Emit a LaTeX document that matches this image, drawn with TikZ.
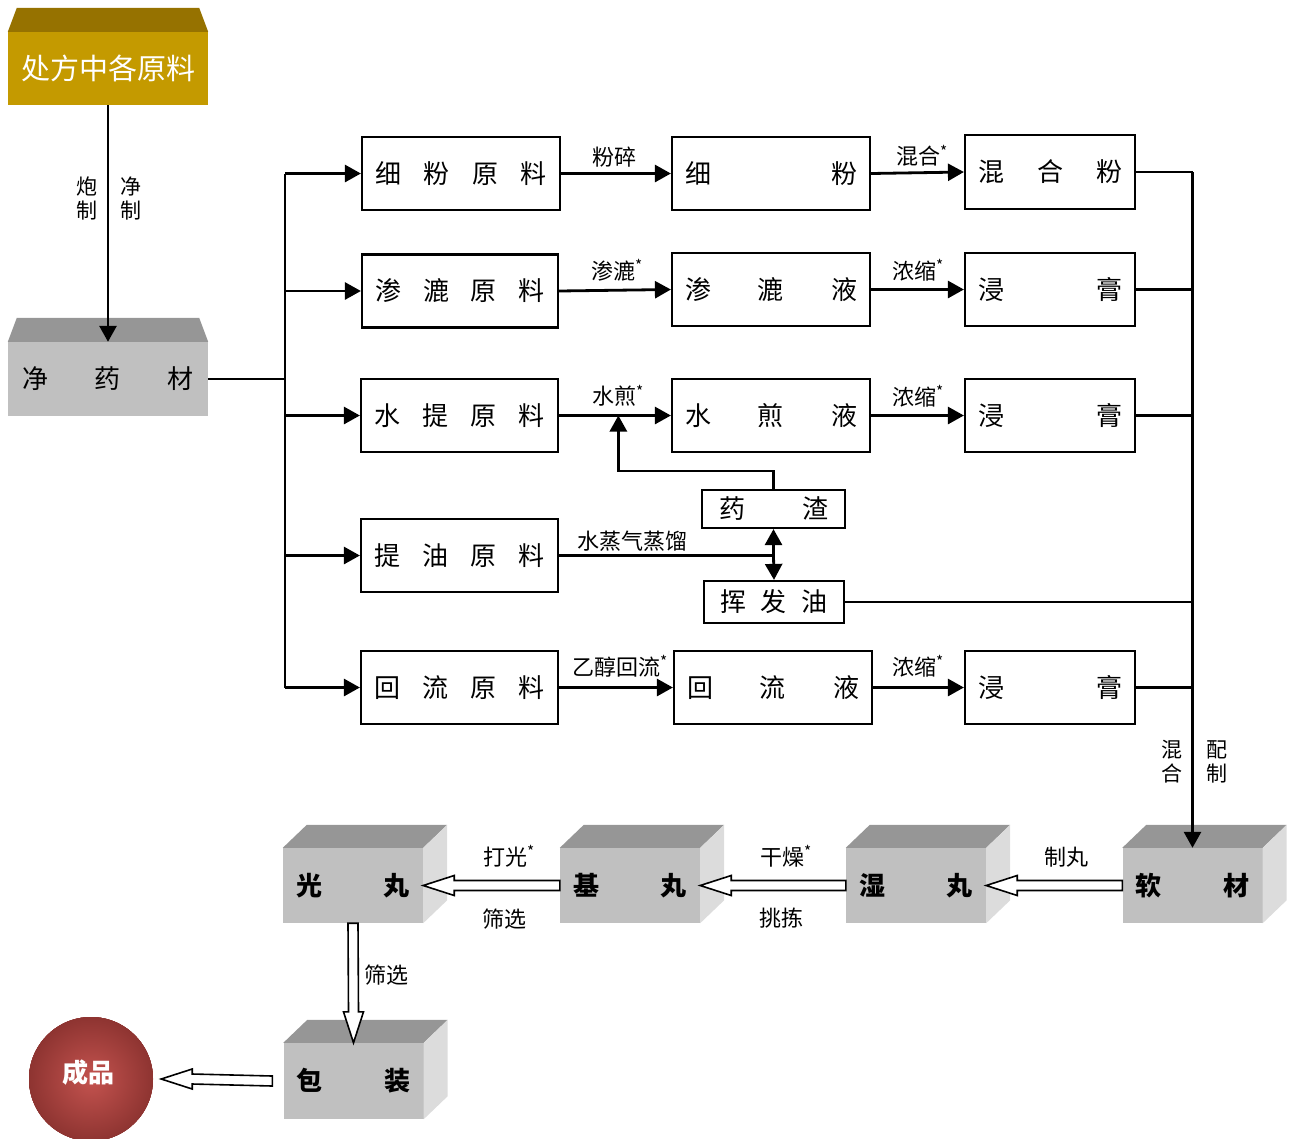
\documentclass[tikz,border=0pt]{standalone}
\usepackage{fontspec}
\newfontfamily\cjk{Noto Sans CJK SC}
\usetikzlibrary{calc,arrows.meta}
\setlength{\parindent}{0pt}
\definecolor{goldfront}{HTML}{C49A00}
\definecolor{goldtop}{HTML}{967200}
\definecolor{cubefront}{HTML}{C0C0C0}
\definecolor{cubetop}{HTML}{969696}
\definecolor{cubeside}{HTML}{DCDCDC}
\definecolor{redin}{HTML}{C4534F}
\definecolor{redout}{HTML}{8E3431}
\newcommand\cubefaces[1]{%
  \fill[cubetop] (#1.north west) -- ++(24,-23) -- ($(#1.north east)+(24,-23)$) -- (#1.north east) -- cycle;
  \fill[cubeside] (#1.north east) -- ++(24,-23) -- ($(#1.south east)+(24,-23)$) -- (#1.south east) -- cycle;}
\newcommand\trapfaces[2]{%
  \fill[#2] (#1.north west) -- ++(9,-24) -- ($(#1.north east)+(-9,-24)$) -- (#1.north east) -- cycle;}
% hollow arrow pointing left: #1 start (right), #2 tip (left)
\newcommand\hollowleft[2]{%
  \draw[hol] ($(#1)+(0,-5)$) -- ($(#2)+(31,-5)$) -- ($(#2)+(31,-10)$) -- (#2) -- ($(#2)+(31,10)$) -- ($(#2)+(31,5)$) -- ($(#1)+(0,5)$) -- cycle;}
% hollow arrow pointing down: #1 start (top), #2 tip (bottom)
\newcommand\hollowdown[2]{%
  \draw[hol] ($(#1)+(-5,0)$) -- ($(#2)+(-5,-31)$) -- ($(#2)+(-10,-31)$) -- (#2) -- ($(#2)+(10,-31)$) -- ($(#2)+(5,-31)$) -- ($(#1)+(5,0)$) -- cycle;}
\tikzset{
  box/.style={draw, line width=2.2pt, inner xsep=13pt, inner ysep=0pt, minimum height=73pt,
              font=\cjk\fontsize{26}{26}\selectfont},
  graybox/.style={fill=cubefront, inner xsep=14pt, inner ysep=0pt, minimum width=200pt, minimum height=74pt,
              text width=172pt, font=\cjk\fontsize{26}{26}\selectfont},
  goldbox/.style={fill=goldfront, inner sep=0pt, minimum width=200pt, minimum height=73pt,
              text=white, font=\cjk\fontsize{29}{29}\selectfont},
  cube/.style={fill=cubefront, inner xsep=13pt, inner ysep=0pt, minimum width=140pt, minimum height=75pt,
              text width=114pt, font=\cjk\bfseries\fontsize{26}{26}\selectfont},
  lbl/.style={inner sep=0pt, font=\cjk\fontsize{22}{22}\selectfont},
  vlbl/.style={inner sep=0pt, align=center, font=\cjk\fontsize{21}{24}\selectfont},
  conn/.style={line width=2.8pt},
  arr/.style={line width=2.8pt, -{Triangle[length=16pt,width=17pt]}},
  hol/.style={draw=black, fill=white, line width=1.6pt, line join=miter},
}
\begin{document}
\begin{tikzpicture}[x=1pt,y=-1pt]
\useasboundingbox (0,0) rectangle (1295,1138);

% source boxes
\node[goldbox] (src) at (108,68.5) {处方中各原料};
\trapfaces{src}{goldtop}
\node[graybox] (jyc) at (108,379) {净\hfill 药\hfill 材};
\trapfaces{jyc}{cubetop}
\draw[arr] (src.south) -- (jyc.north);
\node[vlbl] at (87,198) {炮\\制};
\node[vlbl] at (131,198) {净\\制};

% column 1
\node[box, minimum width=198pt, text width=172pt] (r1) at (461,173.5) {细\hfill 粉\hfill 原\hfill 料};
\node[box, minimum width=196pt, text width=170pt] (r2) at (460,291) {渗\hfill 漉\hfill 原\hfill 料};
\node[box, minimum width=197pt, text width=171pt] (r3) at (459.5,415.5) {水\hfill 提\hfill 原\hfill 料};
\node[box, minimum width=197pt, text width=171pt] (r4) at (459.5,555.5) {提\hfill 油\hfill 原\hfill 料};
\node[box, minimum width=197pt, text width=171pt] (r5) at (459.5,687.5) {回\hfill 流\hfill 原\hfill 料};
% column 2
\node[box, minimum width=198pt, text width=172pt] (s1) at (771,173.5) {细\hfill 粉};
\node[box, minimum width=198pt, text width=172pt] (s2) at (771,289.5) {渗\hfill 漉\hfill 液};
\node[box, minimum width=198pt, text width=172pt] (s3) at (771,415.5) {水\hfill 煎\hfill 液};
\node[box, minimum width=198pt, text width=172pt] (s5) at (773,687.5) {回\hfill 流\hfill 液};
% column 3
\node[box, minimum width=170pt, text width=144pt, minimum height=74pt] (t1) at (1050,172) {混\hfill 合\hfill 粉};
\node[box, minimum width=170pt, text width=144pt] (t2) at (1050,289.5) {浸\hfill 膏};
\node[box, minimum width=170pt, text width=144pt] (t3) at (1050,415.5) {浸\hfill 膏};
\node[box, minimum width=170pt, text width=144pt] (t5) at (1050,687.5) {浸\hfill 膏};
% residue and oil
\node[box, minimum width=143pt, text width=109pt, inner xsep=17pt, minimum height=38pt] (yz) at (773.5,509) {药\hfill 渣};
\node[box, minimum width=140pt, text width=108pt, inner xsep=16pt, minimum height=42pt] (hfy) at (774,602) {挥\hfill 发\hfill 油};

% distribution bus
\coordinate (jn) at (285,379);
\draw[conn] (jyc.east) -- (jn);
\draw[conn] (r1.west -| jn) -- (r5.west -| jn);
\foreach \r in {r1,r2,r3,r4,r5} \draw[arr] (\r.west -| jn) -- (\r.west);

% row arrows
\draw[arr] (r1.east) -- (s1.west);
\draw[arr] (s1.east) -- (t1.west);
\draw[arr] (r2.east) -- (s2.west);
\draw[arr] (s2.east) -- (t2.west);
\draw[arr] (r3.east) -- (s3.west);
\draw[arr] (s3.east) -- (t3.west);
\draw[arr] (r5.east) -- (s5.west);
\draw[arr] (s5.east) -- (t5.west);
\node[lbl] at (614,157) {粉碎};
\node[lbl] at (922,156) {混合\textsuperscript{*}};
\node[lbl] at (617,270) {渗漉\textsuperscript{*}};
\node[lbl] at (918,270) {浓缩\textsuperscript{*}};
\node[lbl] at (618,396) {水煎\textsuperscript{*}};
\node[lbl] at (918,396) {浓缩\textsuperscript{*}};
\node[lbl] at (632,541) {水蒸气蒸馏};
\node[lbl] at (620,666) {乙醇回流\textsuperscript{*}};
\node[lbl] at (918,666) {浓缩\textsuperscript{*}};

% steam distillation
\coordinate (sd) at (r4.east -| yz.south);
\draw[conn] (r4.east) -- (sd);
\draw[arr] (sd) -- (yz.south);
\draw[arr] (sd) -- (hfy.north);
\coordinate (back) at ($(r3.east)!0.53!(s3.west)$);
\draw[arr] (yz.north) -- ++(0,-18) -| (back);

% bottom cubes
\node[cube] (rc) at (1192.5,885.5) {软\hfill 材};
\node[cube] (sw) at (916,885.5) {湿\hfill 丸};
\node[cube] (jw) at (630,885.5) {基\hfill 丸};
\node[cube] (gw) at (353,885.5) {光\hfill 丸};
\node[cube, minimum height=76pt] (bz) at (353.5,1081) {包\hfill 装};
\foreach \c in {rc,sw,jw,gw,bz} \cubefaces{\c}
\node[circle, minimum size=124pt, inner sep=0pt, shading=radial, inner color=redin, outer color=redout] (cp) at (91,1079) {};
\node[text=white, inner sep=0pt, font=\cjk\bfseries\fontsize{26}{26}\selectfont] (cpt) at (88,1073) {成品};

% collector
\draw[conn] (t1.east) -- (t1.east -| rc.north);
\draw[conn] (t2.east) -- (t2.east -| rc.north);
\draw[conn] (t3.east) -- (t3.east -| rc.north);
\draw[conn] (t5.east) -- (t5.east -| rc.north);
\draw[conn] (hfy.east) -- (hfy.east -| rc.north);
\draw[arr] (t1.east -| rc.north) -- (rc.north);
\node[vlbl] at (1172,762) {混\\合};
\node[vlbl] at (1217,762) {配\\制};

% hollow arrows
\hollowleft{rc.west}{sw.east}
\hollowleft{sw.west}{jw.east}
\hollowleft{jw.west}{gw.east}
\hollowdown{gw.south}{bz.north}
\coordinate (pa) at ($(bz.west)+(-11,0)$);
\coordinate (pb) at ($(cp.east)+(8,0)$);
\hollowleft{pa}{pb}
\node[lbl] at (1066,857) {制丸};
\node[lbl] at (786,856) {干燥\textsuperscript{*}};
\node[lbl] at (781,918) {挑拣};
\node[lbl] at (509,856) {打光\textsuperscript{*}};
\node[lbl] at (504,919) {筛选};
\node[lbl] at (386,975) {筛选};
\end{tikzpicture}
\end{document}
